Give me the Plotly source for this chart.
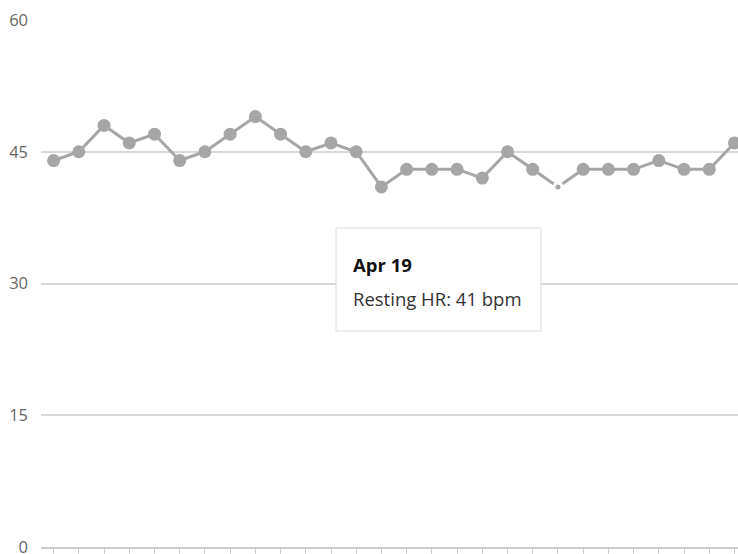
import plotly.graph_objects as go
import pandas as pd

dates = pd.date_range("2024-03-30", periods=28, freq="D")
resting_hr = [44, 45, 48, 46, 47, 44, 45, 47, 49, 47, 45, 46, 45, 41,
              43, 43, 43, 42, 45, 43, 41, 43, 43, 43, 44, 43, 43, 46]
y_ticks = [0, 15, 30, 45, 60]
hover_index = 20
tooltip_title = "Apr 19"
tooltip_label = "Resting HR: 41 bpm"

sizes = [13] * len(resting_hr)
line_w = [0] * len(resting_hr)
sizes[hover_index] = 8
line_w[hover_index] = 3

fig = go.Figure()
fig.add_trace(go.Scatter(
    x=dates, y=resting_hr, mode="lines+markers",
    line=dict(color="#a6a6a6", width=3),
    marker=dict(color="#a6a6a6", size=sizes, opacity=1,
                line=dict(color="white", width=line_w)),
    cliponaxis=False, hoverinfo="skip",
))

x0 = dates[0] - pd.Timedelta(hours=12)
x1 = dates[0] + pd.Timedelta(days=27.14)

fig.update_layout(
    width=738, height=554,
    margin=dict(l=41, r=0, t=20, b=7),
    paper_bgcolor="white", plot_bgcolor="white",
    showlegend=False,
    font=dict(family="Open Sans", color="#333"),
    xaxis=dict(range=[x0, x1], showgrid=False, showticklabels=False, automargin=False,
               ticks="outside", ticklen=6, tickcolor="#ccc", tickwidth=1,
               dtick=86400000, tick0=dates[0],
               showline=True, linecolor="#ccc", linewidth=2, zeroline=False),
    yaxis=dict(range=[0, 60], tickvals=y_ticks, showgrid=True, gridcolor="#d8d8d8",
               gridwidth=1.5, zeroline=False, showline=False, automargin=False,
               ticklabeloverflow="allow",
               tickfont=dict(size=16.5, color="#666"), ticklabelstandoff=12),
)

fig.add_shape(type="rect", xref="paper", yref="paper",
              x0=(336 - 41) / 697, x1=(541 - 41) / 697,
              y0=(547 - 331) / 527, y1=(547 - 228) / 527,
              line=dict(color="#dcdcdc", width=1), fillcolor="white", layer="above")
fig.add_annotation(xref="paper", yref="paper", x=(351 - 41) / 697, y=(547 - 264) / 527,
                   xanchor="left", yanchor="middle", showarrow=False,
                   text="<b>" + tooltip_title + "</b>", font=dict(size=18.5, color="#111"))
fig.add_annotation(xref="paper", yref="paper", x=(351 - 41) / 697, y=(547 - 298) / 527,
                   xanchor="left", yanchor="middle", showarrow=False,
                   text=tooltip_label, font=dict(size=18.5, color="#333"))

fig.write_html("out.html", config={"displayModeBar": False},
               post_script="document.body.style.margin='0';document.body.style.overflow='hidden';document.documentElement.style.overflow='hidden';")
